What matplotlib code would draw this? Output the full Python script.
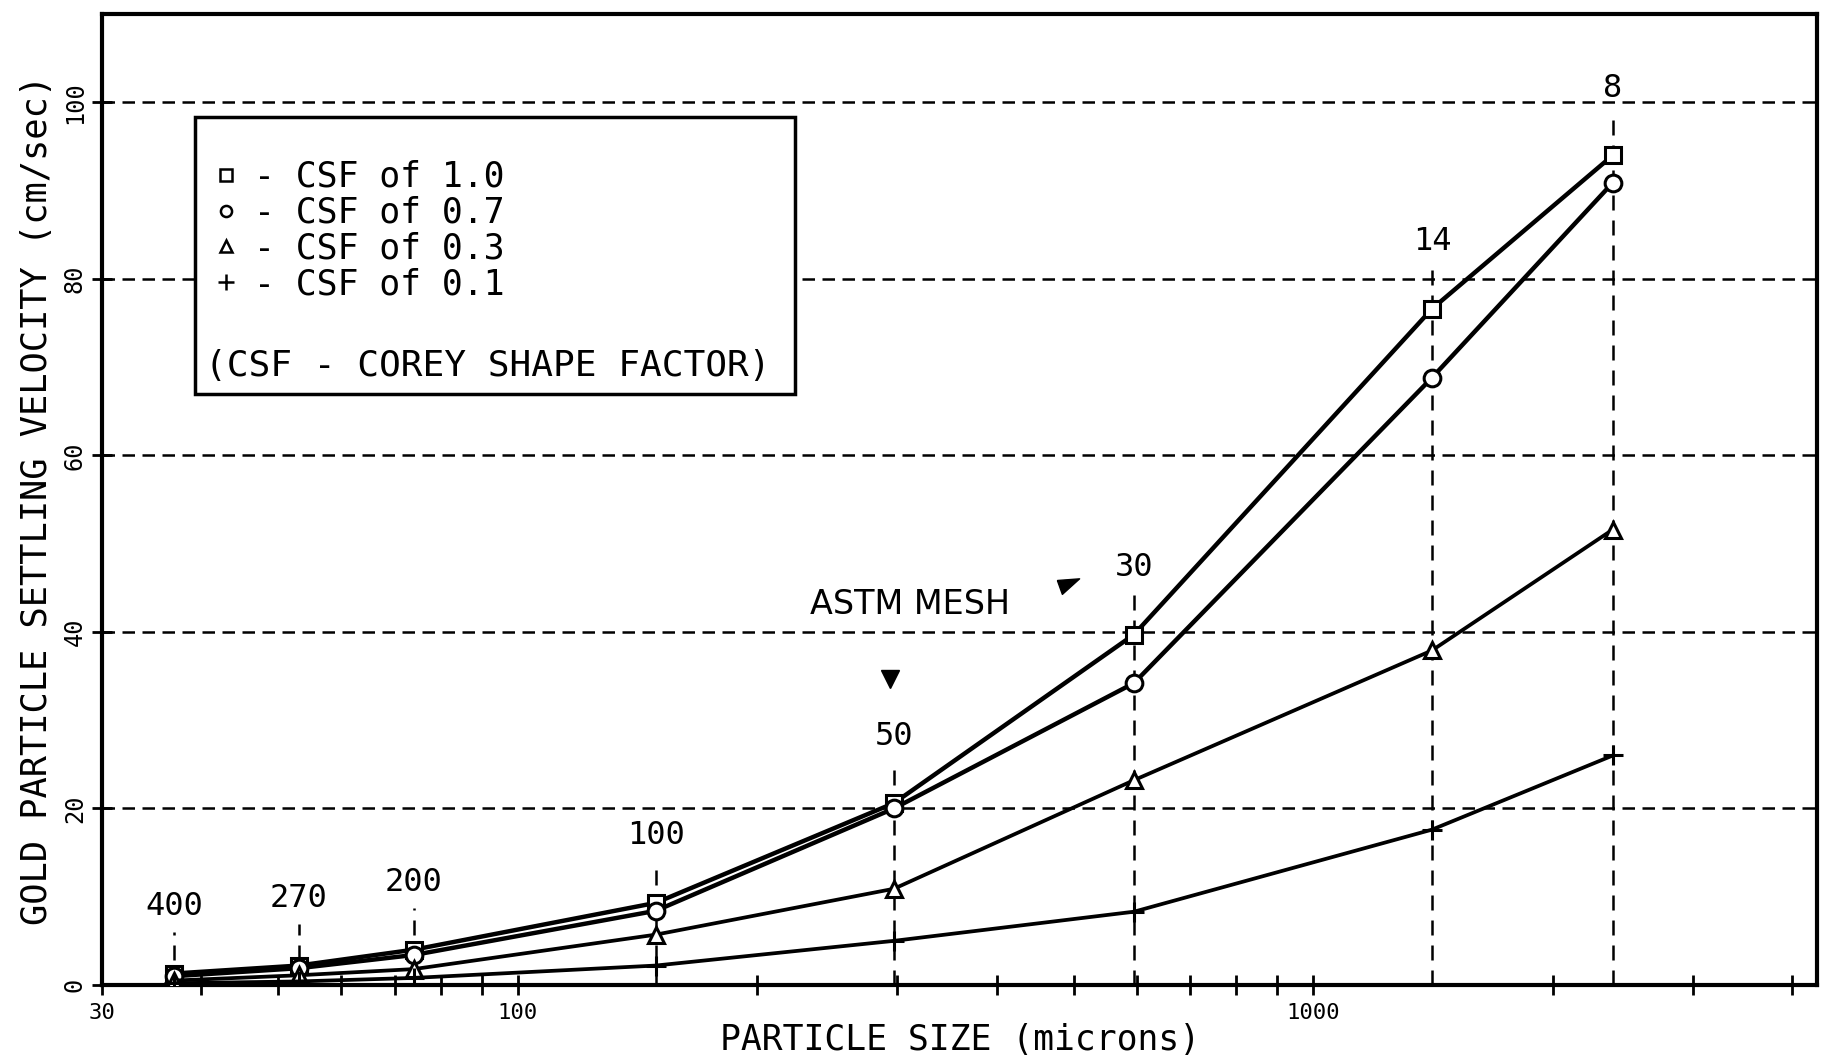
import numpy as np
import matplotlib.pyplot as plt
from matplotlib.lines import Line2D
from matplotlib.patches import Rectangle
from matplotlib.ticker import FixedLocator, NullFormatter

# ASTM mesh numbers and matching particle sizes (microns)
mesh = ['400', '270', '200', '100', '50', '30', '14', '8']
size_um = [37, 53, 74, 149, 297, 595, 1410, 2380]

# settling velocity (cm/sec) for each Corey shape factor
csf_10 = [1.3, 2.2, 4.0, 9.3, 20.6, 39.7, 76.6, 94.0]
csf_07 = [1.0, 1.9, 3.4, 8.4, 20.0, 34.2, 68.8, 90.9]
csf_03 = [0.5, 1.1, 1.8, 5.7, 10.9, 23.2, 37.9, 51.6]
csf_01 = [0.2, 0.4, 0.8, 2.2, 5.0, 8.3, 17.6, 26.0]

labels = ['- CSF of 1.0', '- CSF of 0.7', '- CSF of 0.3', '- CSF of 0.1']
mono = 'DejaVu Sans Mono'

fig = plt.figure(figsize=(18.32, 10.63), dpi=100)
ax = fig.add_axes([0.0557, 0.0734, 0.9362, 0.9134])
ax.set_xscale('log')
ax.set_xlim(30, 4300)
ax.set_ylim(0, 110)

dash = (0, (5, 3))
for y in [20, 40, 60, 80, 100]:
    ax.axhline(y, color='black', lw=1.8, ls=dash, zorder=1)

# dashed mesh markers with their numbers above the highest curve
tops = np.max([csf_10, csf_07, csf_03, csf_01], axis=0)
for x, t, m in zip(size_um, tops, mesh):
    ax.vlines(x, 0, t + 4.7, color='black', lw=1.8, ls=(0, (6, 4)), zorder=1)
    ax.text(x, t + 7.6, m, ha='center', va='center', fontsize=23, family=mono)

style = dict(color='black', mfc='white', mec='black', mew=2.2, zorder=3)
ax.plot(size_um, csf_10, marker='s', ms=12, lw=3.2, **style)
ax.plot(size_um, csf_07, marker='o', ms=12, lw=3.2, **style)
ax.plot(size_um, csf_03, marker='^', ms=11, lw=2.7, **style)
ax.plot(size_um, csf_01, marker='+', ms=15, lw=2.7, **style)

ax.text(311, 43.1, 'ASTM MESH', ha='center', va='center', fontsize=24,
        family='DejaVu Sans')
ax.plot(294, 34.7, marker='v', ms=13, color='black', ls='none')
pointer = [(-1.0, 0.45), (1.0, 0.6), (-0.55, -0.8), (-1.0, 0.45)]
ax.plot(491, 45.3, marker=pointer, ms=16, color='black', ls='none')

# legend box
ax.add_patch(Rectangle((0.054, 0.609), 0.35, 0.285, transform=ax.transAxes,
                       facecolor='white', edgecolor='black', lw=2.5, zorder=4))
handles = [Line2D([], [], marker=mk, ls='none', color='black', mfc='white',
                  mew=1.8, ms=sz)
           for mk, sz in zip(['s', 'o', '^', '+'], [8, 8, 8, 11])]
leg = ax.legend(handles, labels, loc='upper left', bbox_to_anchor=(0.056, 0.864),
                frameon=False, prop={'family': mono, 'size': 25},
                handlelength=0.8, handletextpad=0.4, labelspacing=0.05,
                borderaxespad=0)
leg.set_zorder(5)
ax.text(0.06, 0.638, '(CSF - COREY SHAPE FACTOR)', transform=ax.transAxes,
        ha='left', va='center', fontsize=26, family=mono, zorder=5)

# axes and ticks
for s in ax.spines.values():
    s.set_linewidth(3)
ax.xaxis.set_major_locator(FixedLocator([30, 100, 1000]))
ax.set_xticklabels(['30', '100', '1000'], family=mono, fontsize=16)
minor = [40, 50, 60, 70, 80, 90, 200, 300, 400, 500, 600, 700, 800, 900,
         2000, 3000, 4000]
ax.xaxis.set_minor_locator(FixedLocator(minor))
ax.xaxis.set_minor_formatter(NullFormatter())
ax.tick_params(axis='x', which='both', direction='inout', length=14, width=2,
               pad=6)
ax.set_yticks([0, 20, 40, 60, 80, 100])
ax.set_yticklabels(['0', '20', '40', '60', '80', '100'], family=mono,
                   fontsize=17, rotation=90, va='center')
ax.tick_params(axis='y', direction='inout', length=14, width=2, pad=4)

ax.set_xlabel('PARTICLE SIZE (microns)', family=mono, fontsize=25, labelpad=0)
ax.set_ylabel('GOLD PARTICLE SETTLING VELOCITY (cm/sec)', family=mono,
              fontsize=25.5, labelpad=6)

fig.savefig('out.png', dpi=100)
plt.close(fig)
